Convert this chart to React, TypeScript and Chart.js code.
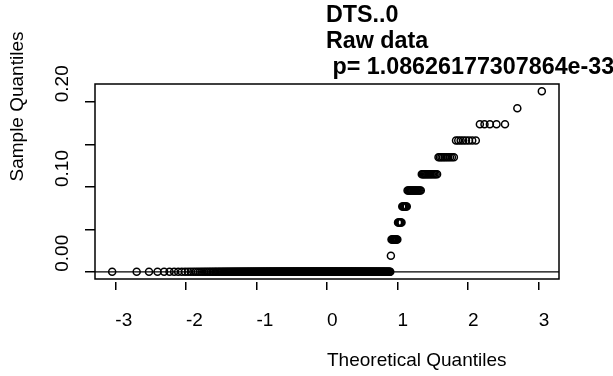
import React, { useEffect, useRef } from 'react';
import { Chart, registerables } from 'chart.js';

Chart.register(...registerables);

// ---- Data ----
// Distinct sample values (the sample is discrete) and how many observations sit at each level
const sampleLevels = [0, 0.019, 0.038, 0.058, 0.077, 0.096, 0.115, 0.135, 0.155, 0.174, 0.193, 0.213];
const levelCounts = [351, 1, 10, 6, 7, 16, 14, 10, 8, 5, 1, 1];

const xTickValues = [-3, -2, -1, 0, 1, 2, 3];
const xTickLabels = ['-3', '-2', '-1', '0', '1', '2', '3'];
const yTickValues = [0, 0.05, 0.1, 0.15, 0.2];
const yTickLabels = ['0.00', '', '0.10', '', '0.20'];

const titleLines = ['DTS..0', 'Raw data', ' p= 1.08626177307864e-33'];
const xAxisTitle = 'Theoretical Quantiles';
const yAxisTitle = 'Sample Quantiles';

const FONT = '"Liberation Sans", Arial, Helvetica, sans-serif';

// Inverse standard normal CDF (Acklam)
function qnorm(p: number): number {
  const a = [-3.969683028665376e1, 2.209460984245205e2, -2.759285104469687e2, 1.38357751867269e2, -3.066479806614716e1, 2.506628277459239];
  const b = [-5.447609879822406e1, 1.615858368580409e2, -1.556989798598866e2, 6.680131188771972e1, -1.328068155288572e1];
  const c = [-7.784894002430293e-3, -3.223964580411365e-1, -2.400758277161838, -2.549732539343734, 4.374664141464968, 2.938163982698783];
  const d = [7.784695709041462e-3, 3.224671290700398e-1, 2.445134137142996, 3.754408661907416];
  const plow = 0.02425;
  const phigh = 1 - plow;
  let q: number, r: number;
  if (p < plow) {
    q = Math.sqrt(-2 * Math.log(p));
    return (((((c[0] * q + c[1]) * q + c[2]) * q + c[3]) * q + c[4]) * q + c[5]) /
      ((((d[0] * q + d[1]) * q + d[2]) * q + d[3]) * q + 1);
  }
  if (p <= phigh) {
    q = p - 0.5;
    r = q * q;
    return (((((a[0] * r + a[1]) * r + a[2]) * r + a[3]) * r + a[4]) * r + a[5]) * q /
      (((((b[0] * r + b[1]) * r + b[2]) * r + b[3]) * r + b[4]) * r + 1);
  }
  q = Math.sqrt(-2 * Math.log(1 - p));
  return -(((((c[0] * q + c[1]) * q + c[2]) * q + c[3]) * q + c[4]) * q + c[5]) /
    ((((d[0] * q + d[1]) * q + d[2]) * q + d[3]) * q + 1);
}

function quantile7(sorted: number[], prob: number): number {
  const h = (sorted.length - 1) * prob;
  const lo = Math.floor(h);
  const hi = Math.ceil(h);
  return sorted[lo] + (h - lo) * (sorted[hi] - sorted[lo]);
}

function buildQQ() {
  const sample: number[] = [];
  sampleLevels.forEach((v, i) => {
    for (let k = 0; k < levelCounts[i]; k++) sample.push(v);
  });
  sample.sort((a, b) => a - b);
  const n = sample.length;
  const a = n <= 10 ? 3 / 8 : 0.5;
  const points = sample.map((y, i) => ({ x: qnorm((i + 1 - a) / (n + 1 - 2 * a)), y }));
  // qqline through the 1st and 3rd quartiles
  const y1 = quantile7(sample, 0.25), y3 = quantile7(sample, 0.75);
  const x1 = qnorm(0.25), x3 = qnorm(0.75);
  const slope = (y3 - y1) / (x3 - x1);
  const intercept = y1 - slope * x1;
  const xs = points.map(p => p.x);
  const ys = points.map(p => p.y);
  const ext = (lo: number, hi: number) => [lo - 0.04 * (hi - lo), hi + 0.04 * (hi - lo)];
  const [xMin, xMax] = ext(Math.min(...xs), Math.max(...xs));
  const [yMin, yMax] = ext(Math.min(...ys), Math.max(...ys));
  const line = [
    { x: xMin, y: intercept + slope * xMin },
    { x: xMax, y: intercept + slope * xMax },
  ];
  return { points, line, xMin, xMax, yMin, yMax };
}

const rStylePlugin = {
  id: 'rStyle',
  afterDraw(chart: any) {
    const { ctx, chartArea: ca } = chart;
    ctx.save();
    ctx.strokeStyle = '#000';
    ctx.lineWidth = 1.5;
    ctx.strokeRect(ca.left, ca.top, ca.right - ca.left, ca.bottom - ca.top);
    ctx.fillStyle = '#000';
    const cx = (ca.left + ca.right) / 2;
    const cy = (ca.top + ca.bottom) / 2;
    ctx.textAlign = 'left';
    ctx.textBaseline = 'alphabetic';
    ctx.font = `bold 23.3px ${FONT}`;
    titleLines.forEach((t, i) => ctx.fillText(t, cx - 1, 21.5 + 26 * i));
    ctx.font = `19px ${FONT}`;
    ctx.fillText(xAxisTitle, cx, 366);
    ctx.translate(23, cy);
    ctx.rotate(-Math.PI / 2);
    ctx.fillText(yAxisTitle, 0, 0);
    ctx.restore();
  },
};

export default function App() {
  const canvasRef = useRef<HTMLCanvasElement | null>(null);

  useEffect(() => {
    if (!canvasRef.current) return;
    const { points, line, xMin, xMax, yMin, yMax } = buildQQ();
    const chart = new Chart(canvasRef.current, {
      type: 'scatter',
      data: {
        datasets: [
          {
            type: 'line',
            data: line,
            borderColor: '#000',
            borderWidth: 1.3,
            pointRadius: 0,
            fill: false,
          } as any,
          {
            data: points,
            pointStyle: 'circle',
            pointRadius: 3.5,
            pointBorderWidth: 1.5,
            pointBorderColor: '#000',
            pointBackgroundColor: 'rgba(0,0,0,0)',
            borderColor: '#000',
            backgroundColor: 'rgba(0,0,0,0)',
            showLine: false,
          },
        ],
      },
      options: {
        animation: false,
        responsive: false,
        devicePixelRatio: 1,
        events: [],
        layout: { padding: { left: 53, top: 84, right: 54, bottom: 0 } },
        plugins: {
          legend: { display: false },
          tooltip: { enabled: false },
          title: { display: false },
        },
        scales: {
          x: {
            type: 'linear',
            min: xMin,
            max: xMax,
            afterBuildTicks: (s: any) => {
              s.ticks = xTickValues.map(v => ({ value: v }));
            },
            afterFit: (s: any) => {
              s.height = 97;
              s.paddingLeft = 0;
              s.paddingRight = 0;
            },
            border: { display: false },
            grid: {
              drawOnChartArea: false,
              drawTicks: true,
              tickLength: 11,
              tickBorderDash: [0, 3, 8, 0],
              color: '#000',
              lineWidth: 1.5,
            },
            ticks: {
              align: 'start',
              padding: 19,
              color: '#000',
              autoSkip: false,
              minRotation: 0,
              maxRotation: 0,
              font: { family: FONT, size: 19 },
              callback: (_v: any, i: number) => xTickLabels[i],
            },
          },
          y: {
            type: 'linear',
            min: yMin,
            max: yMax,
            afterBuildTicks: (s: any) => {
              s.ticks = yTickValues.map(v => ({ value: v }));
            },
            afterFit: (s: any) => {
              s.width = 42;
              s.paddingTop = 0;
              s.paddingBottom = 0;
            },
            border: { display: false },
            grid: { drawOnChartArea: false, drawTicks: true, tickLength: 10, color: '#000', lineWidth: 1.5 },
            ticks: {
              crossAlign: 'far',
              align: 'start',
              minRotation: 90,
              maxRotation: 90,
              autoSkip: false,
              color: '#000',
              font: { family: FONT, size: 19 },
              callback: (_v: any, i: number) => yTickLabels[i],
            },
          },
        },
      } as any,
      plugins: [rStylePlugin],
    });
    return () => chart.destroy();
  }, []);

  return (
    <div style={{ position: 'absolute', left: 0, top: 0, width: 613, height: 376, background: '#fff' }}>
      <canvas ref={canvasRef} width={613} height={376} />
    </div>
  );
}
